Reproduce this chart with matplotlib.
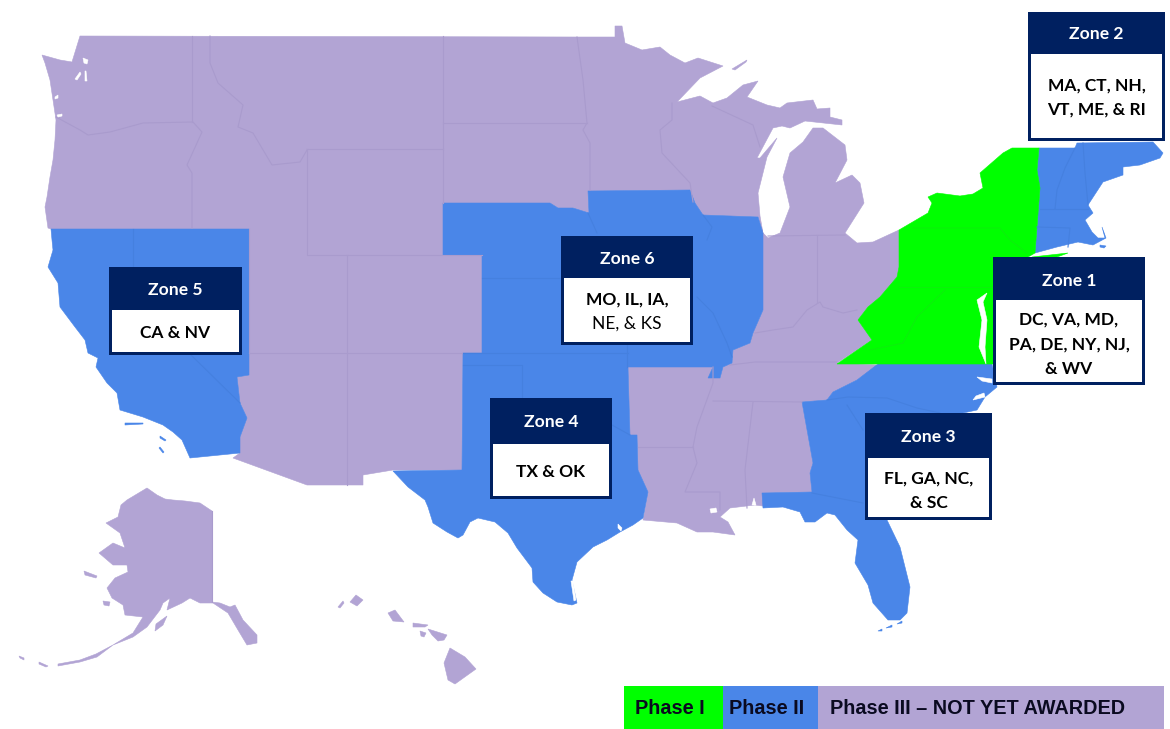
# -*- coding: utf-8 -*-

import matplotlib
matplotlib.use('Agg')
import matplotlib.pyplot as plt
from matplotlib.patches import Rectangle

PURPLE = '#B2A4D4'
PURPLE_LINE = '#A99BCD'
BLUE = '#4A86E8'
BLUE_LINE = '#4580DF'
GREEN = '#00FF00'
GREEN_LINE = '#0CF00C'
NAVY = '#002060'

# outlines, in image pixels
purple_main = [
    (80, 36), (577, 37), (615, 37), (615, 26), (622, 26), (625, 43), (642, 50), (660, 47), (670, 55),
    (685, 63), (698, 58), (723, 66), (700, 78), (677, 102), (700, 96), (713, 103), (727, 98), (743, 85),
    (758, 81), (747, 97), (767, 105), (780, 108), (787, 103), (813, 100), (817, 109), (830, 108),
    (830, 117), (842, 120), (842, 125), (805, 121), (790, 128), (782, 126), (773, 128), (757, 158),
    (760, 158), (777, 138), (767, 157), (758, 193), (760, 216), (763, 233), (768, 238), (780, 233),
    (790, 207), (783, 177), (790, 153), (803, 142), (813, 128), (823, 128), (845, 145), (847, 160),
    (835, 183), (852, 175), (860, 183), (864, 203), (845, 233), (857, 243), (873, 242), (899, 230), (899, 267),
    (897, 277), (880, 297), (868, 307), (858, 320), (872, 340), (837, 363), (878, 365), (857, 380),
    (833, 392), (827, 400), (802, 402), (813, 463), (810, 473), (812, 492), (763, 493), (770, 507),
    (755, 505), (730, 508), (720, 517), (728, 522), (735, 535), (713, 532), (697, 532), (677, 523),
    (643, 520), (648, 492), (638, 470), (637, 435), (630, 435), (628, 367), (713, 367), (708, 378),
    (720, 378), (723, 367), (732, 363), (733, 350), (750, 343), (753, 333), (763, 310), (763, 233),
    (758, 217), (703, 215), (695, 203), (690, 190), (588, 191), (589, 213), (573, 208), (558, 208),
    (550, 203), (443, 203), (443, 255), (482, 255), (482, 353), (463, 353), (462, 470), (393, 470),
    (363, 475), (363, 485), (307, 485), (233, 458), (240, 453), (240, 437), (247, 418), (240, 403),
    (237, 377), (249, 375), (249, 229), (51, 229), (48, 228), (45, 207), (47, 197), (50, 177), (53, 160),
    (55, 140), (56, 120), (53, 100), (50, 80), (45, 63), (42, 55), (60, 60), (72, 62),
]

blue_west = [
    (51, 229), (249, 229), (249, 375), (237, 377), (240, 403), (247, 418), (240, 437), (240, 453),
    (190, 458), (182, 440), (173, 432), (163, 425), (143, 417), (120, 410), (117, 393), (107, 383),
    (96, 367), (98, 358), (88, 353), (85, 340), (75, 327), (60, 307), (58, 283), (48, 267), (53, 250), (52, 240),
]

blue_central = [
    (443, 203), (550, 203), (558, 208), (573, 208), (589, 213), (588, 191), (690, 190), (695, 203),
    (703, 215), (758, 217), (763, 233), (763, 310), (753, 333), (750, 343), (733, 350), (732, 363),
    (723, 367), (720, 378), (708, 378), (713, 367), (628, 367), (630, 435), (637, 435), (638, 470),
    (648, 492), (643, 518), (633, 525), (620, 532), (607, 540), (593, 547), (577, 562), (572, 580),
    (577, 603), (572, 605), (557, 602), (543, 593), (533, 582), (532, 568), (517, 548), (508, 533),
    (495, 522), (478, 518), (470, 522), (463, 535), (458, 538), (447, 532), (433, 523), (428, 507),
    (425, 500), (408, 487), (393, 471), (462, 470), (463, 353), (482, 353), (482, 255), (443, 255),
]

blue_south_east = [
    (878, 364), (992, 364), (997, 387), (985, 397), (977, 410), (963, 413), (900, 450), (880, 500),
    (887, 520), (900, 547), (910, 587), (907, 613), (900, 620), (888, 620), (873, 603), (868, 585),
    (855, 563), (858, 540), (847, 530), (835, 515), (827, 513), (815, 522), (805, 522), (800, 512),
    (783, 507), (763, 508), (762, 493), (812, 492), (810, 473), (813, 463), (802, 402), (827, 400),
    (833, 392), (857, 380),
]

blue_new_england = [
    (1039, 148), (1075, 148), (1077, 143), (1153, 142), (1163, 153), (1160, 158), (1140, 165),
    (1123, 167), (1123, 175), (1103, 182), (1088, 205), (1093, 213), (1085, 220), (1092, 232),
    (1098, 238), (1105, 238), (1102, 227), (1106, 238), (1093, 245), (1078, 242), (1057, 247),
    (1035, 253), (1037, 227), (1040, 188), (1037, 170),
]

green_main = [
    (899, 230), (928, 213), (932, 203), (928, 197), (937, 193), (960, 196), (973, 194), (983, 188),
    (980, 173), (1003, 153), (1012, 148), (1039, 148), (1037, 170), (1040, 188), (1037, 227),
    (1035, 253), (1028, 257), (1000, 262), (1000, 364), (837, 364), (872, 340), (858, 320),
    (868, 307), (880, 297), (897, 277), (899, 267),
]
green_long_island = [(1032, 257), (1068, 253), (1057, 257), (1040, 259)]

chesapeake = [(987, 293), (977, 300), (982, 320), (979, 347), (986, 364), (985, 347), (987, 320), (983, 302)]
pamlico = [(977, 377), (992, 379), (992, 383), (982, 381)]
albemarle = [(973, 400), (985, 397), (984, 393), (976, 396)]
puget_a = [(83, 58), (88, 60), (87, 64), (84, 63)]
puget_b = [(75, 79), (80, 72), (81, 74), (77, 80)]
puget_c = [(85, 71), (86, 71), (87, 81), (85, 81)]
grays_harbor = [(55, 97), (58, 95), (58, 98), (55, 99)]
willapa = [(57, 115), (62, 114), (62, 116), (58, 117)]
pontchartrain = [(710, 509), (716, 508), (717, 512), (711, 513)]
mobile_bay = [(752, 505), (754, 498), (756, 505)]
padre_lagoon = [(571, 581), (573, 581), (576, 600), (574, 601)]
galveston_bay = [(618, 524), (622, 528), (621, 531), (618, 528)]

alaska = [
    (147, 488), (157, 495), (165, 499), (173, 500), (185, 501), (200, 503), (212, 511), (212, 602),
    (220, 603), (230, 607), (235, 605), (243, 620), (257, 635), (257, 643), (247, 645), (238, 630),
    (228, 613), (213, 603), (200, 603), (190, 598), (182, 603), (167, 610), (170, 598), (163, 603),
    (160, 610), (147, 627), (133, 637), (113, 645), (133, 633), (143, 617), (125, 615), (123, 605),
    (112, 598), (107, 588), (115, 578), (128, 572), (127, 565), (113, 565), (99, 553), (113, 543),
    (125, 548), (120, 533), (106, 523), (118, 517), (121, 505), (127, 500), (137, 494),
]
aleutians = [(113, 645), (97, 657), (80, 662), (58, 666), (58, 664), (80, 660), (96, 654)]
aleutians_far_a = [(19, 656), (24, 658), (24, 660), (20, 658)]
aleutians_far_b = [(39, 662), (48, 666), (46, 667), (39, 664)]
kodiak = [(167, 616), (163, 625), (155, 631), (156, 624)]
st_lawrence = [(84, 571), (97, 576), (96, 578), (85, 575)]
nunivak = [(103, 601), (110, 602), (109, 606), (104, 605)]
hawaii_big = [(450, 648), (465, 657), (476, 669), (455, 684), (448, 680), (444, 663)]
hawaii_maui = [(428, 629), (447, 635), (444, 640), (438, 641), (432, 635)]
hawaii_molokai = [(413, 623), (428, 625), (425, 627), (413, 627)]
hawaii_lanai = [(420, 631), (426, 633), (424, 637), (421, 636)]
hawaii_oahu = [(395, 610), (404, 622), (393, 621), (388, 613)]
hawaii_kauai = [(356, 595), (363, 600), (357, 606), (350, 602)]
hawaii_niihau = [(338, 607), (343, 601), (344, 603), (340, 608)]
isle_royale = [(732, 69), (747, 60), (746, 62), (735, 70)]
ca_island_a = [(125, 423), (143, 423), (143, 424), (125, 425)]
ca_island_b = [(160, 436), (166, 440), (165, 441), (160, 438)]
ca_island_c = [(160, 447), (164, 452), (163, 453), (159, 448)]
fl_keys_a = [(878, 631), (882, 629), (882, 631)]
fl_keys_b = [(886, 628), (892, 625), (892, 627)]
fl_keys_c = [(897, 624), (902, 621), (902, 623)]
nantucket = [(1100, 245), (1106, 246), (1104, 248), (1100, 247)]

purple_borders = [
    [(192, 36), (192, 122)],
    [(56, 117), (80, 130), (88, 135), (110, 132), (143, 123), (193, 122), (202, 132), (187, 165), (192, 173), (192, 228)],
    [(210, 36), (210, 63), (218, 83), (243, 105), (238, 127), (253, 133), (272, 165), (300, 162), (307, 150)],
    [(307, 149), (443, 149)],
    [(307, 149), (307, 255), (482, 255)],
    [(249, 229), (249, 353)],
    [(249, 353), (463, 353)],
    [(347, 255), (347, 485)],
    [(443, 36), (443, 203)],
    [(443, 123), (587, 123)],
    [(577, 37), (583, 80), (587, 123), (583, 130), (590, 143), (590, 190)],
    [(672, 103), (672, 120), (660, 130), (662, 153), (690, 183), (693, 202)],
    [(712, 106), (753, 125), (760, 147)],
    [(768, 236), (845, 235)],
    [(817, 235), (817, 302)],
    [(755, 333), (773, 330), (793, 327), (807, 310), (820, 302), (823, 307), (843, 313), (857, 310)],
    [(730, 365), (755, 362), (837, 362)],
    [(713, 401), (802, 402)],
    [(713, 367), (713, 383), (697, 427), (693, 447), (697, 463), (685, 492), (720, 492), (720, 510)],
    [(638, 447), (693, 447)],
    [(753, 402), (745, 470), (747, 508)],
    [(212, 511), (212, 602)],
]
blue_borders = [
    [(133, 229), (133, 267)],
    [(191, 355), (240, 403)],
    [(482, 278), (561, 278)],
    [(463, 353), (628, 353)],
    [(463, 365), (522, 365), (522, 398)],
    [(627, 345), (627, 367)],
    [(588, 213), (597, 233)],
    [(703, 215), (712, 227), (707, 240)],
    [(697, 297), (713, 313), (727, 343), (732, 357)],
    [(612, 425), (630, 435)],
    [(827, 400), (848, 397), (887, 398), (917, 408), (940, 413)],
    [(847, 405), (863, 430)],
    [(812, 493), (863, 503)],
    [(1075, 148), (1065, 168), (1057, 190), (1055, 209)],
    [(1083, 143), (1085, 173), (1088, 205)],
    [(1040, 209), (1088, 209)],
    [(1037, 227), (1070, 228), (1068, 247)],
]
green_borders = [
    [(913, 228), (1000, 228), (1010, 240), (1027, 253)],
    [(899, 287), (993, 287)],
    [(945, 290), (917, 317), (903, 343), (870, 350)],
]

zone_titles = ['Zone 1', 'Zone 2', 'Zone 3', 'Zone 4', 'Zone 5', 'Zone 6']
zone_lines = [
    ['DC, VA, MD,', 'PA, DE, NY, NJ,', '& WV'],
    ['MA, CT, NH,', 'VT, ME, & RI'],
    ['FL, GA, NC,', '& SC'],
    ['TX & OK'],
    ['CA & NV'],
    ['MO, IL, IA,', 'NE, & KS'],
]
legend_labels = ['Phase I', 'Phase II', 'Phase III \u2013 NOT YET AWARDED']

fig = plt.figure(figsize=(11.7, 7.29), dpi=100)
ax = fig.add_axes([0, 0, 1, 1])
ax.set_xlim(0, 1170)
ax.set_ylim(729, 0)
ax.axis('off')


def fill_poly(points, color, z=1):
    xs, ys = zip(*points)
    ax.fill(xs, ys, color=color, linewidth=0.4, zorder=z)


def draw_lines(lines, color):
    for line in lines:
        xs, ys = zip(*line)
        ax.plot(xs, ys, color=color, linewidth=0.8, zorder=3)


def draw_zone(x0, y0, x1, y1, y_head, title, lines, y_title, y_lines, weights):
    ax.add_patch(Rectangle((x0, y0), x1 - x0, y1 - y0, facecolor=NAVY, edgecolor='none', zorder=5))
    ax.add_patch(Rectangle((x0 + 3, y_head), x1 - x0 - 6, y1 - y_head - 3, facecolor='white', edgecolor='none', zorder=6))
    xc = (x0 + x1) / 2
    ax.text(xc, y_title + 1, title, color='white', fontsize=12.6, fontweight='bold', family='Lato',
            ha='center', va='center', zorder=7)
    for text, y, w in zip(lines, y_lines, weights):
        ax.text(xc, y + 1, text, color='black', fontsize=12.5, fontweight=w, family='Lato',
                ha='center', va='center', zorder=7)


for poly in [purple_main, alaska, aleutians, aleutians_far_a, aleutians_far_b, kodiak, st_lawrence, nunivak,
             hawaii_big, hawaii_maui, hawaii_molokai, hawaii_lanai, hawaii_oahu, hawaii_kauai, hawaii_niihau,
             isle_royale]:
    fill_poly(poly, PURPLE, 1)
for poly in [blue_west, blue_central, blue_south_east, blue_new_england, ca_island_a, ca_island_b, ca_island_c,
             fl_keys_a, fl_keys_b, fl_keys_c, nantucket]:
    fill_poly(poly, BLUE, 2)
for poly in [green_main, green_long_island]:
    fill_poly(poly, GREEN, 2)

draw_lines(purple_borders, PURPLE_LINE)
draw_lines(blue_borders, BLUE_LINE)
draw_lines(green_borders, GREEN_LINE)

for poly in [chesapeake, pamlico, albemarle, puget_a, puget_b, puget_c, grays_harbor, willapa, pontchartrain,
             mobile_bay, padre_lagoon, galveston_bay]:
    fill_poly(poly, 'white', 4)

draw_zone(993, 257, 1145, 385, 300, zone_titles[0], zone_lines[0], 280, [319, 344, 368], ['bold'] * 3)
draw_zone(1028, 12, 1165, 141, 54, zone_titles[1], zone_lines[1], 33, [85, 109], ['bold'] * 2)
draw_zone(865, 413, 992, 520, 458, zone_titles[2], zone_lines[2], 436, [478, 502], ['bold'] * 2)
draw_zone(490, 398, 612, 499, 444, zone_titles[3], zone_lines[3], 421, [471], ['bold'])
draw_zone(109, 267, 242, 355, 310, zone_titles[4], zone_lines[4], 289, [332], ['bold'])
draw_zone(561, 236, 693, 345, 278, zone_titles[5], zone_lines[5], 258, [299, 323], ['bold', 'normal'])

# legend strip at the bottom
ax.add_patch(Rectangle((624, 686), 99, 43, facecolor=GREEN, edgecolor='none', zorder=5))
ax.add_patch(Rectangle((723, 686), 95, 43, facecolor=BLUE, edgecolor='none', zorder=5))
ax.add_patch(Rectangle((818, 686), 346, 43, facecolor=PURPLE, edgecolor='none', zorder=5))
for text, x in zip(legend_labels, [635, 729, 830]):
    ax.text(x, 708.5, text, color='#0A0A20', fontsize=14.3, fontweight='bold', family='Liberation Sans',
            ha='left', va='center', zorder=6)

fig.savefig('out.png', dpi=100)
